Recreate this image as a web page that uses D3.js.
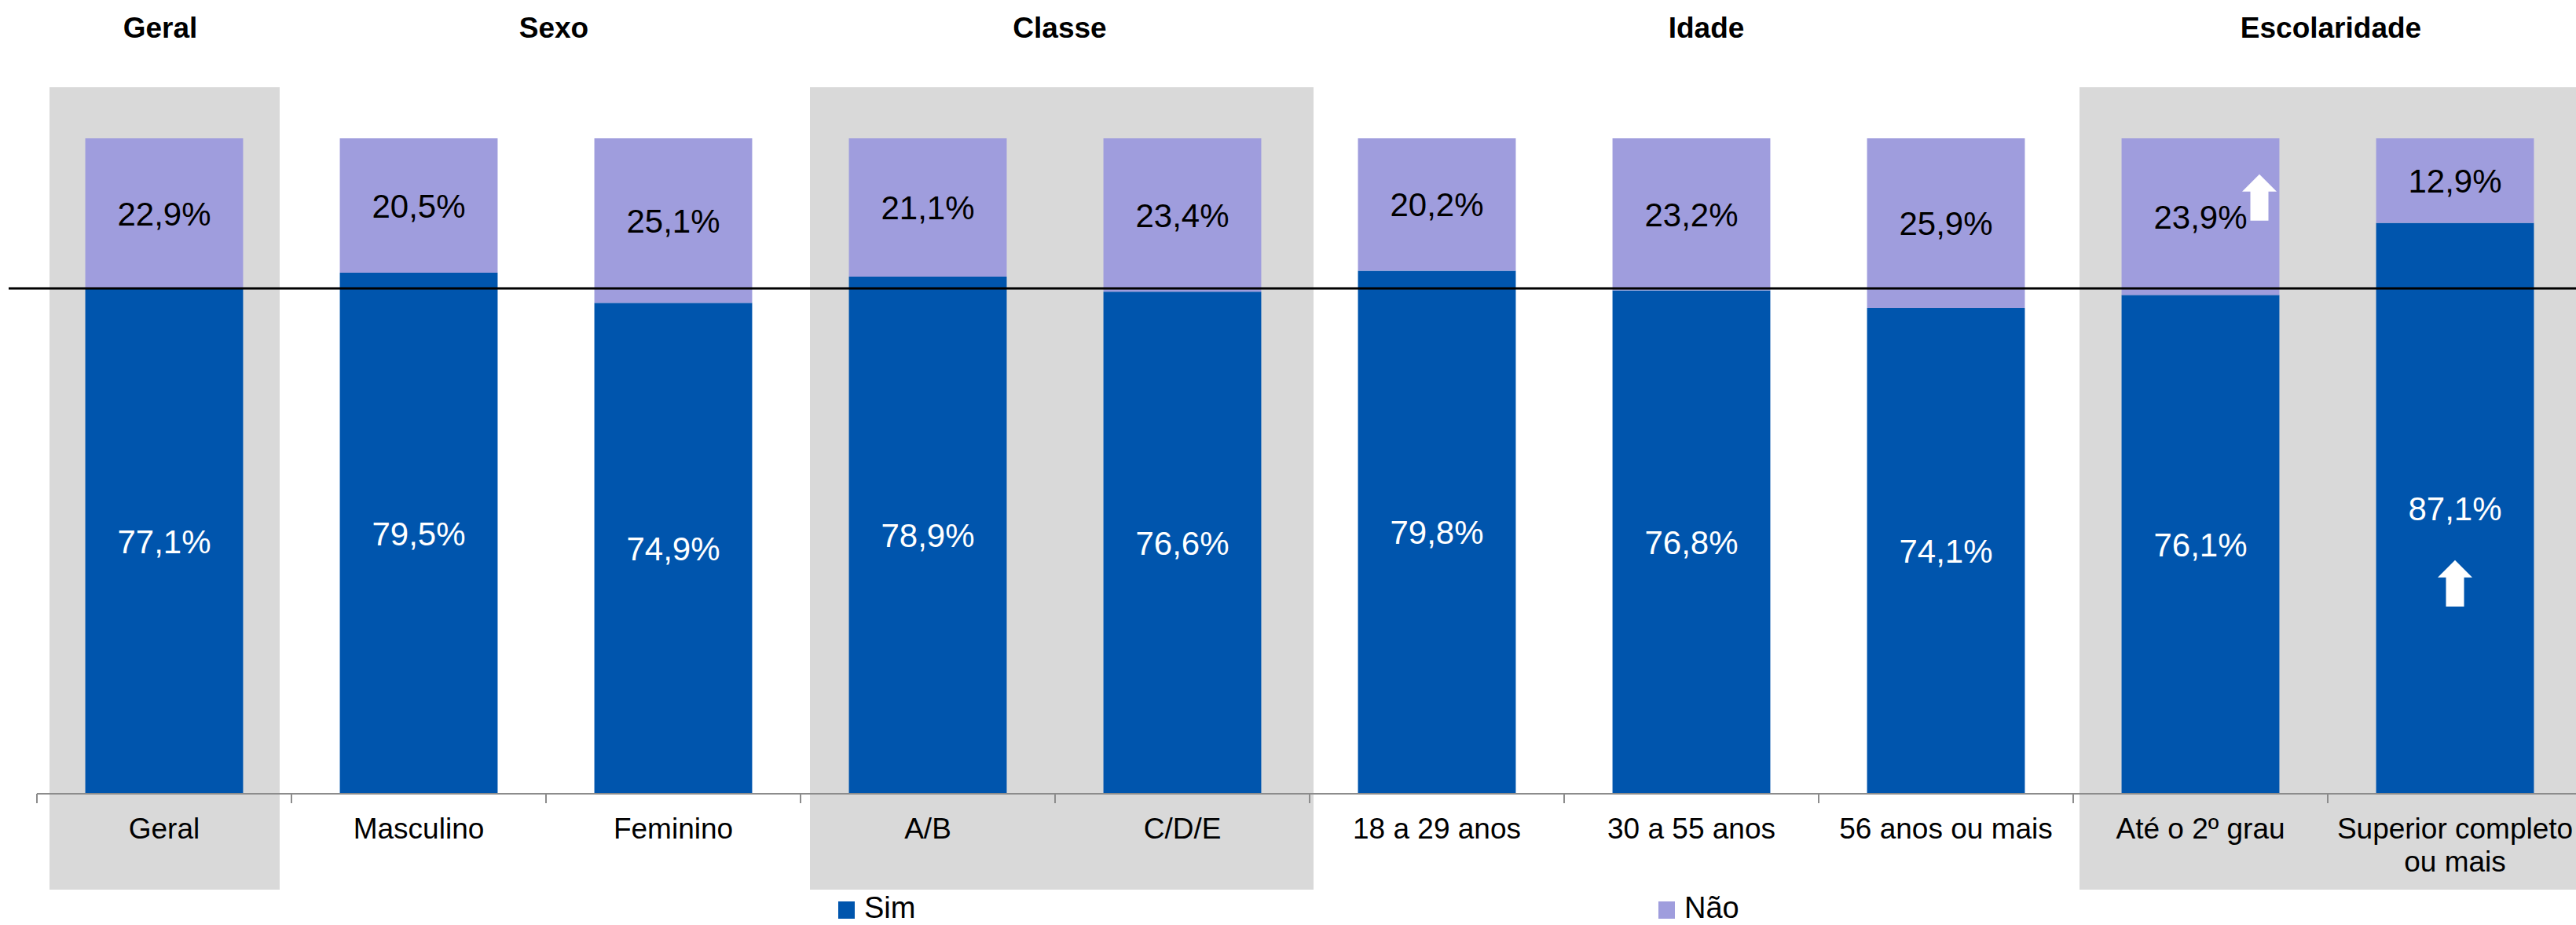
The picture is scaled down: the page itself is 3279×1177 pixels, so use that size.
<!DOCTYPE html>
<html>
<head>
<meta charset="utf-8">
<script src="https://cdn.jsdelivr.net/npm/d3@7"></script>
<style>
  html, body { margin: 0; padding: 0; background: #ffffff; }
  svg { display: block; }
  text { font-family: "Liberation Sans", Arial, sans-serif; }
</style>
</head>
<body>
<svg id="chart" width="3279" height="1177"></svg>
<script>
// ---- data ----
const categories = ["Geral", "Masculino", "Feminino", "A/B", "C/D/E",
  "18 a 29 anos", "30 a 55 anos", "56 anos ou mais", "Até o 2º grau", "Superior completo ou mais"];
const simValues = [77.1, 79.5, 74.9, 78.9, 76.6, 79.8, 76.8, 74.1, 76.1, 87.1];
const naoValues = [22.9, 20.5, 25.1, 21.1, 23.4, 20.2, 23.2, 25.9, 23.9, 12.9];
const seriesNames = ["Sim", "Não"];
const groupNames = ["Geral", "Sexo", "Classe", "Idade", "Escolaridade"];
const groupMembers = [[0], [1, 2], [3, 4], [5, 6, 7], [8, 9]];
const groupShaded = [true, false, true, false, true];
const referenceCategory = "Geral";
const arrowCategories = ["Até o 2º grau", "Superior completo ou mais"];

// ---- style / layout constants ----
const colSim = "#0055ad", colNao = "#9f9ddd", colShade = "#d9d9d9", colAxis = "#8c8c8c";
const titleNudge = [-5, 10, 6, 19, 4];
const boxInsetL = [16, 0, 12, 0, 8];
const boxInsetR = [15, 0, -5, 0, 0];

const svg = d3.select("#chart");
const W = 3279, H = 1177;
const axisY = 1010, topY = 176;

const x = d3.scaleBand().domain(categories).range([47, 47 + 324 * categories.length])
  .paddingInner(0.38).paddingOuter(0.19);
const y = d3.scaleLinear().domain([0, 100]).range([axisY, topY]);
const step = x.step(), bw = x.bandwidth();
const bandStart = c => x(c) - (step - bw) / 2;
const center = c => x(c) + bw / 2;

const rows = categories.map((c, i) => ({ cat: c, sim: simValues[i], nao: naoValues[i] }));

// ---- shaded group boxes ----
groupMembers.forEach((m, gi) => {
  if (!groupShaded[gi]) return;
  const c0 = categories[m[0]], c1 = categories[m[m.length - 1]];
  const x0 = bandStart(c0) + boxInsetL[gi];
  const x1 = Math.min(W, bandStart(c1) + step - boxInsetR[gi]);
  svg.append("rect").attr("x", x0).attr("y", 111).attr("width", x1 - x0).attr("height", 1132 - 111)
    .attr("fill", colShade);
});

// ---- group titles ----
groupMembers.forEach((m, gi) => {
  const cx = d3.mean(m, i => center(categories[i])) + titleNudge[gi];
  svg.append("text").attr("x", cx).attr("y", 48).attr("text-anchor", "middle")
    .attr("font-size", 37).attr("font-weight", "bold").attr("fill", "#000").text(groupNames[gi]);
});

// ---- stacked bars ----
const g = svg.append("g");
g.selectAll("rect.sim").data(rows).join("rect").attr("class", "sim")
  .attr("x", d => x(d.cat)).attr("width", bw)
  .attr("y", d => y(d.sim)).attr("height", d => y(0) - y(d.sim))
  .attr("fill", colSim);
g.selectAll("rect.nao").data(rows).join("rect").attr("class", "nao")
  .attr("x", d => x(d.cat)).attr("width", bw)
  .attr("y", d => y(d.sim + d.nao)).attr("height", d => y(d.sim) - y(d.sim + d.nao))
  .attr("fill", colNao);

const fmt = v => v.toFixed(1).replace(".", ",") + "%";
g.selectAll("text.simlab").data(rows).join("text").attr("class", "simlab")
  .attr("x", d => center(d.cat)).attr("y", d => (y(0) + y(d.sim)) / 2)
  .attr("dy", "0.36em").attr("text-anchor", "middle").attr("font-size", 42)
  .attr("fill", "#ffffff").text(d => fmt(d.sim));
g.selectAll("text.naolab").data(rows).join("text").attr("class", "naolab")
  .attr("x", d => center(d.cat)).attr("y", d => (y(d.sim) + y(d.sim + d.nao)) / 2)
  .attr("dy", "0.36em").attr("text-anchor", "middle").attr("font-size", 42)
  .attr("fill", "#000000").text(d => fmt(d.nao));

// ---- x axis ----
const axisG = svg.append("g").attr("transform", `translate(0,${axisY})`);
axisG.call(d3.axisBottom(x).tickSize(0).tickPadding(31));
axisG.select(".domain").remove();
axisG.selectAll(".tick text").attr("font-size", 37).attr("fill", "#000")
  .style("font-family", '"Liberation Sans", Arial, sans-serif')
  .each(function(d) {
    const t = d3.select(this);
    if (d === "Superior completo ou mais") {
      t.text(null);
      t.append("tspan").attr("x", 0).text("Superior completo");
      t.append("tspan").attr("x", 0).attr("dy", 42).text("ou mais");
    }
  });
axisG.append("line").attr("x1", 47).attr("x2", W).attr("y1", 0).attr("y2", 0)
  .attr("stroke", colAxis).attr("stroke-width", 2);
axisG.selectAll("line.bt").data(categories).join("line").attr("class", "bt")
  .attr("x1", d => bandStart(d)).attr("x2", d => bandStart(d))
  .attr("y1", 0).attr("y2", 12).attr("stroke", colAxis).attr("stroke-width", 2);

// ---- reference line at Geral ----
const refVal = simValues[categories.indexOf(referenceCategory)];
svg.append("line").attr("x1", 11).attr("x2", W).attr("y1", y(refVal)).attr("y2", y(refVal))
  .attr("stroke", "#000").attr("stroke-width", 3);

// ---- arrows ----
function arrow(cx, tipY) {
  const p = d3.path();
  p.moveTo(cx, tipY);
  p.lineTo(cx + 22, tipY + 22);
  p.lineTo(cx + 11.5, tipY + 22);
  p.lineTo(cx + 11.5, tipY + 59);
  p.lineTo(cx - 11.5, tipY + 59);
  p.lineTo(cx - 11.5, tipY + 22);
  p.lineTo(cx - 22, tipY + 22);
  p.closePath();
  svg.append("path").attr("d", p.toString()).attr("fill", "#ffffff");
}
{
  const c0 = arrowCategories[0], i0 = categories.indexOf(c0);
  arrow(center(c0) + 75, (y(simValues[i0]) + y(100)) / 2 - 54);
  const c1 = arrowCategories[1], i1 = categories.indexOf(c1);
  arrow(center(c1), (y(0) + y(simValues[i1])) / 2 + 66);
}

// ---- legend ----
const legX = [1067, 2111];
seriesNames.forEach((s, i) => {
  svg.append("rect").attr("x", legX[i]).attr("y", 1147).attr("width", 21).attr("height", 22)
    .attr("fill", i === 0 ? colSim : colNao);
  svg.append("text").attr("x", legX[i] + 33).attr("y", 1168).attr("font-size", 38)
    .attr("fill", "#000").text(s);
});
</script>
</body>
</html>
